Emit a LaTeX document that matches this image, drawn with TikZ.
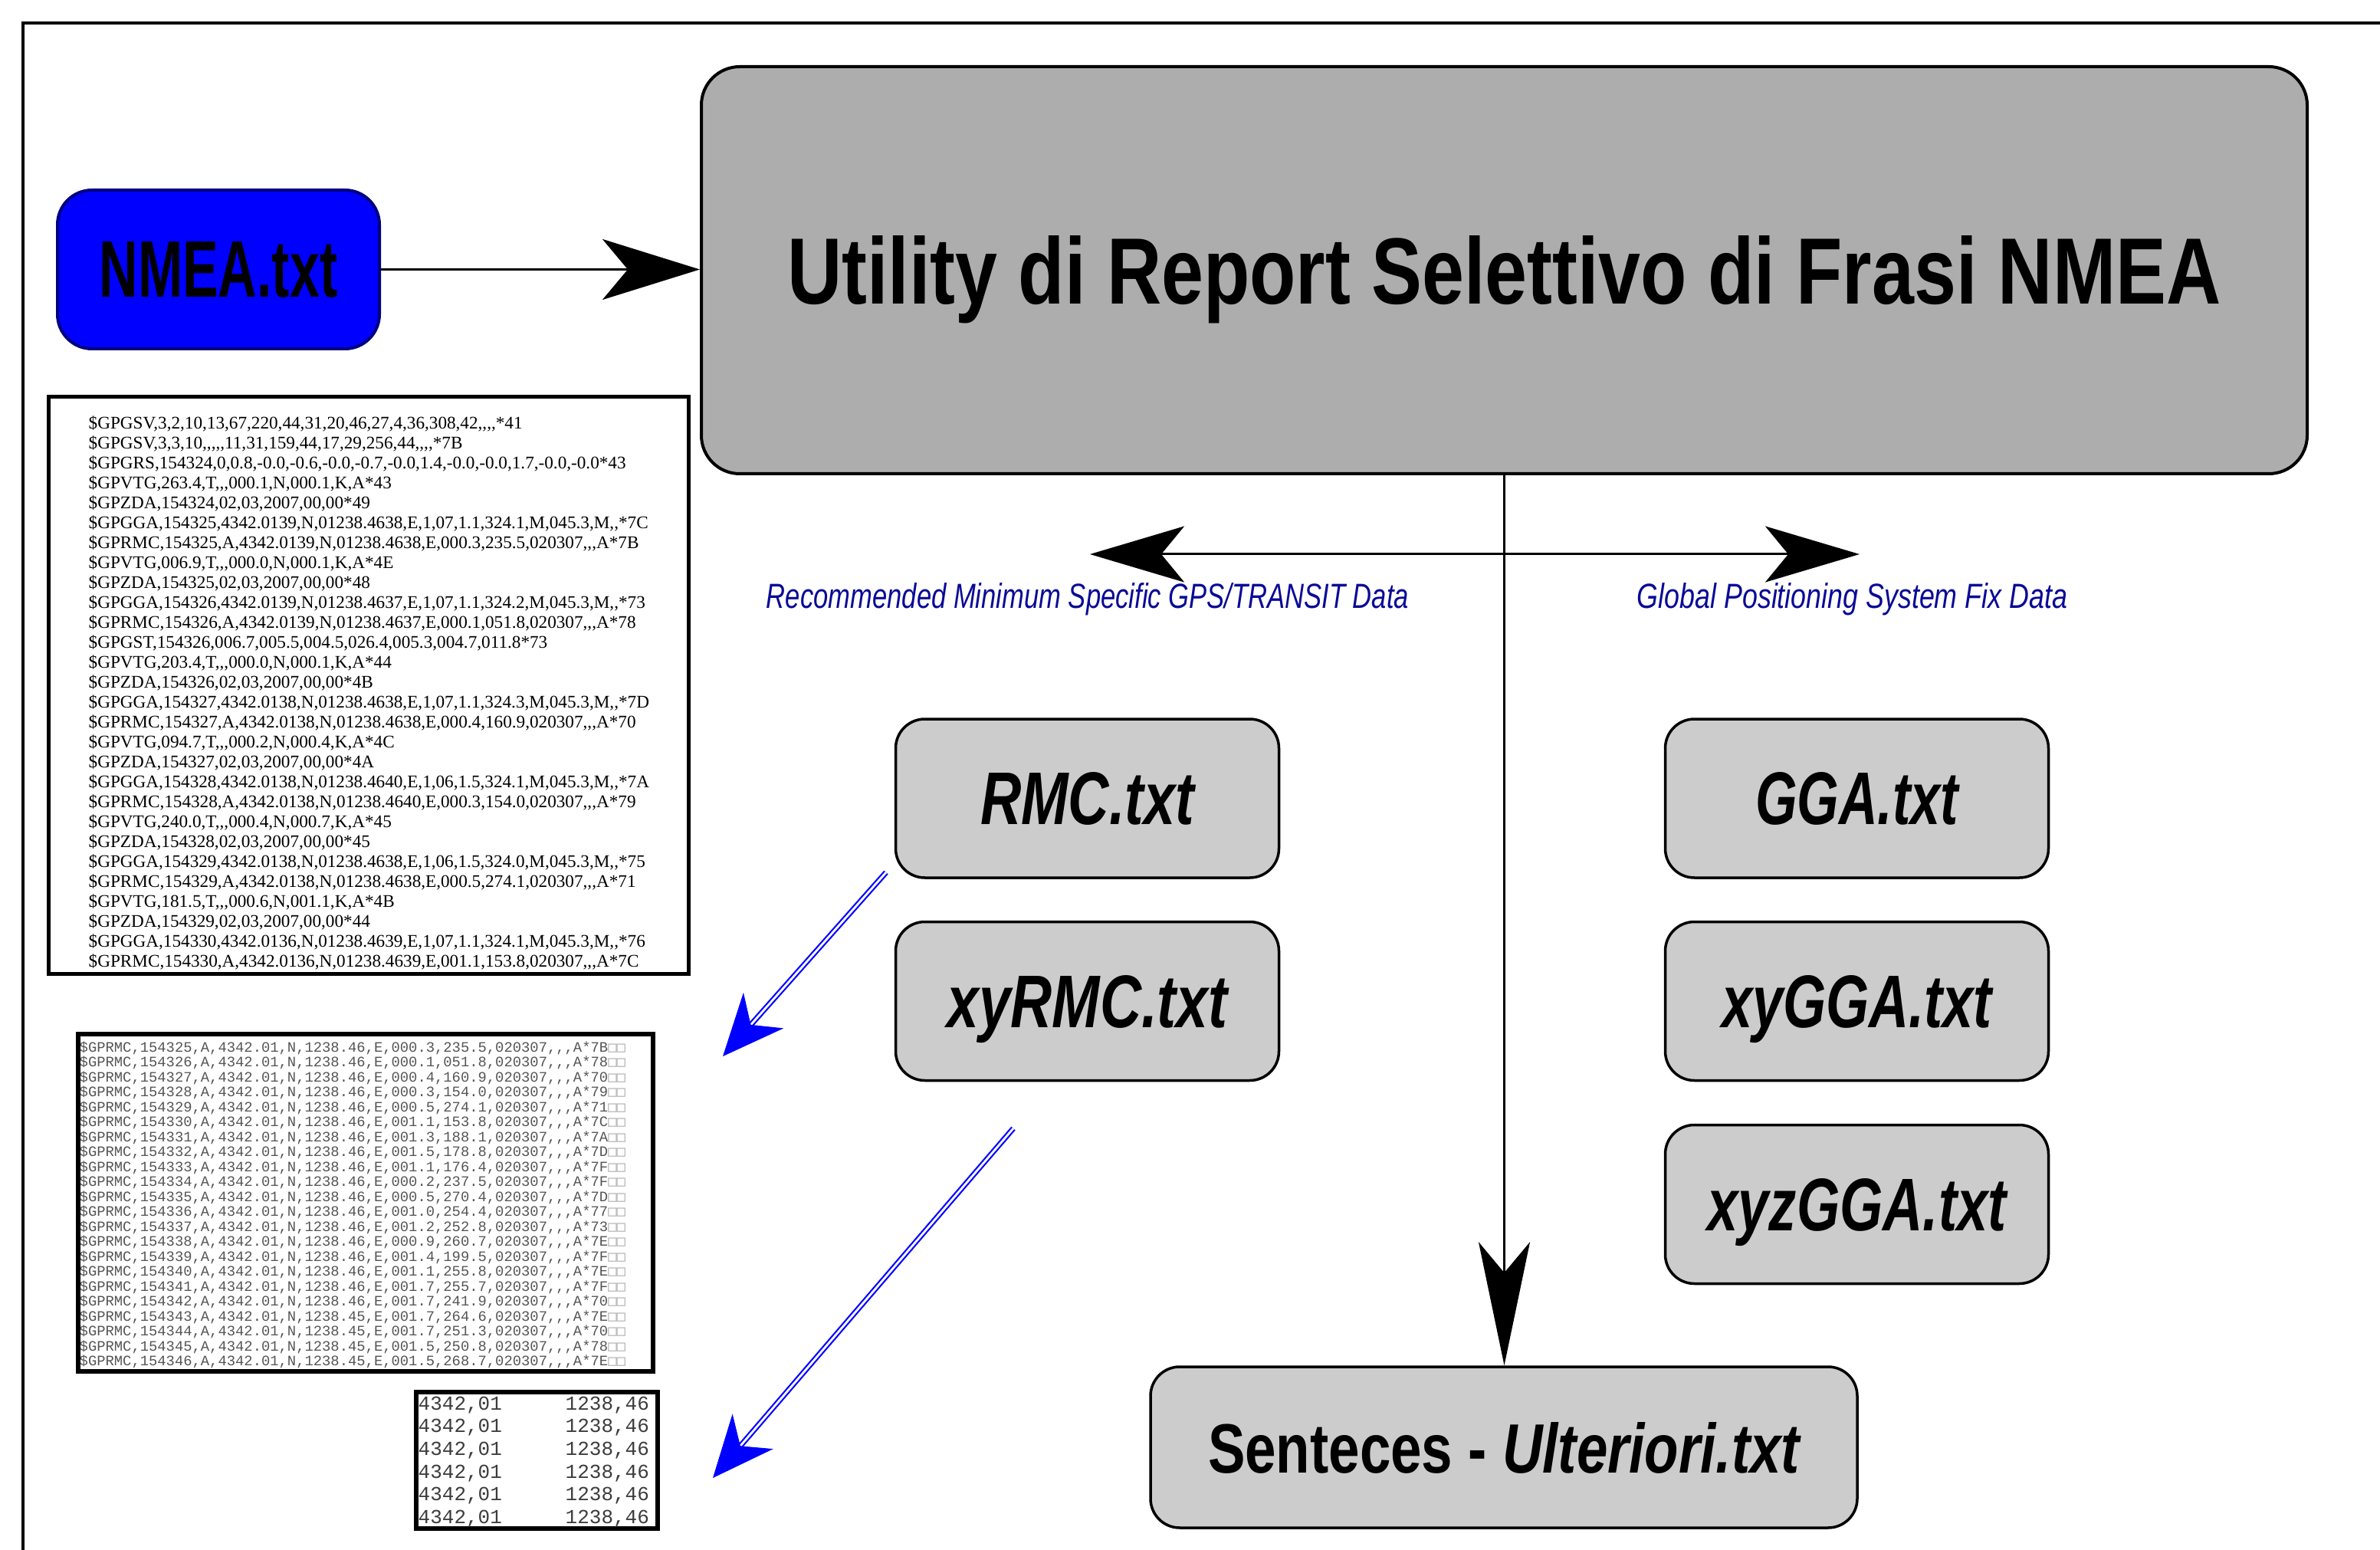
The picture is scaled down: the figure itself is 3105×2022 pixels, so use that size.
\documentclass[tikz,border=0pt]{standalone}
\usepackage{fontspec}
\setmainfont{Liberation Sans}
\newfontfamily\serifraw{Liberation Serif}
\newfontfamily\monoraw{Liberation Mono}
\newfontfamily\symraw{DejaVu Sans Mono}
\usetikzlibrary{arrows.meta,calc}
\definecolor{navyb}{RGB}{0,0,128}
\definecolor{pureblue}{RGB}{0,0,255}
\definecolor{lblblue}{RGB}{10,10,150}
\definecolor{biggray}{RGB}{173,173,173}
\definecolor{filegray}{RGB}{204,204,204}
\definecolor{rawgray}{RGB}{85,85,85}
\definecolor{colgray}{RGB}{60,60,60}
\definecolor{sqgray}{RGB}{170,170,170}
\newcommand\Cm{,\kern0pt}
\newcommand\linesblock[2]{\vtop{\baselineskip=#1\relax\lineskiplimit=-\maxdimen\lineskip=0pt\halign{##\hfil\cr#2\crcr}}}
\newcommand\rmcline[5]{\$GPRMC,#1,A,4342.01,N,#2,E,#3,#4,020307\Cm\Cm,A*#5{\symraw\color{sqgray}□□}}
\newcommand\colline{\makebox[19.2mm][l]{4342,01}1238,46}
\tikzset{
  frameline/.style={line width=0.4mm},
  inbox/.style={draw=navyb, fill=pureblue, line width=0.4mm, rounded corners=4.5mm,
    inner sep=0pt, text depth=0pt, minimum width=42mm, minimum height=20.7mm},
  bigbox/.style={draw, fill=biggray, line width=0.4mm, rounded corners=5mm,
    inner sep=0pt, text depth=0pt, minimum width=209.5mm, minimum height=53.1mm},
  filebox/.style={draw, fill=filegray, line width=0.35mm, rounded corners=3.8mm,
    inner sep=0pt, text depth=0pt, minimum width=50mm, minimum height=20.7mm},
  databox/.style={draw, line width=0.55mm, inner sep=0pt},
  rawtxt/.style={anchor=base west, inner sep=0pt},
  lbl/.style={anchor=base, inner sep=0pt, text=lblblue},
  conn/.style={line width=0.3mm},
  blueline/.style={draw=pureblue, line width=0.22mm, double=white, double distance=0.28mm},
  bluetip/.style={draw=pureblue, fill=pureblue, line width=0.1mm,
    -{Stealth[length=8mm,width=7mm,inset=2.5mm]}}
}
\begin{document}
\begin{tikzpicture}[x=0.1mm,y=-0.1mm]
\useasboundingbox (0,0) rectangle (3105,2022);
\draw[frameline] (30,2040) -- (30,30) -- (3120,30);

% main nodes
\node[inbox] (nmea) at (285,351.5) {\resizebox{31.1mm}{7.2mm}{\bfseries NMEA.txt}};
\node[bigbox] (util) at (1962.5,352.5) {\resizebox{187mm}{8.9mm}{\bfseries Utility di Report Selettivo di Frasi NMEA}};
\node[filebox] (rmc) at (1418.5,1041.5) {\resizebox{27.9mm}{6.8mm}{\bfseries\itshape RMC.txt}};
\node[filebox] (xyrmc) at (1418.5,1306) {\resizebox{36.6mm}{6.8mm}{\bfseries\itshape xyRMC.txt}};
\node[filebox] (gga) at (2422.5,1041.5) {\resizebox{26.5mm}{6.8mm}{\bfseries\itshape GGA.txt}};
\node[filebox] (xygga) at (2422.5,1306) {\resizebox{35.3mm}{6.8mm}{\bfseries\itshape xyGGA.txt}};
\node[filebox] (xyzgga) at (2422.5,1571) {\resizebox{39mm}{6.8mm}{\bfseries\itshape xyzGGA.txt}};
\node[filebox, minimum width=92.2mm, minimum height=21mm] (sent) at (1962,1888)
  {\resizebox{77.2mm}{6.6mm}{\bfseries Senteces - \itshape Ulteriori.txt}};

% labels
\node[lbl] (rmclbl) at (1419,793) {\resizebox{83.8mm}{3.3mm}{\itshape Recommended Minimum Specific GPS/TRANSIT Data}};
\node[lbl] (ggalbl) at (2416.5,793) {\resizebox{56.1mm}{3.3mm}{\itshape Global Positioning System Fix Data}};

% connectors
\draw[conn, line width=0.35mm, -{Stealth[length=12.7mm,width=7.9mm,inset=3.3mm]}] (nmea.east) -- (nmea.east -| util.west);
\draw[conn, -{Stealth[length=16.1mm,width=6.7mm,inset=4mm]}] (util.south) -- (util.south |- sent.north);
\coordinate (hl) at (1422,723);
\coordinate (hr) at (2426,723);
\draw[conn, {Stealth[length=12.3mm,width=7.3mm,inset=3mm]}-{Stealth[length=12.3mm,width=7.3mm,inset=3mm]}] (hl) -- (hr);

% data boxes
\node[databox, line width=0.5mm, minimum width=83.5mm, minimum height=75.3mm] (raw1) at (481,894) {};
\node[rawtxt, font=\serifraw\fontsize{6.6pt}{7.39pt}\selectfont] (raw1text) at (115,560) {\linesblock{7.39pt}{%
\$GPGSV,3,2,10,13,67,220,44,31,20,46,27,4,36,308,42\Cm\Cm\Cm,*41\cr
\$GPGSV,3,3,10\Cm\Cm\Cm\Cm,11,31,159,44,17,29,256,44\Cm\Cm\Cm,*7B\cr
\$GPGRS,154324,0,0.8,-0.0,-0.6,-0.0,-0.7,-0.0,1.4,-0.0,-0.0,1.7,-0.0,-0.0*43\cr
\$GPVTG,263.4,T\Cm\Cm,000.1,N,000.1,K,A*43\cr
\$GPZDA,154324,02,03,2007,00,00*49\cr
\$GPGGA,154325,4342.0139,N,01238.4638,E,1,07,1.1,324.1,M,045.3,M\Cm,*7C\cr
\$GPRMC,154325,A,4342.0139,N,01238.4638,E,000.3,235.5,020307\Cm\Cm,A*7B\cr
\$GPVTG,006.9,T\Cm\Cm,000.0,N,000.1,K,A*4E\cr
\$GPZDA,154325,02,03,2007,00,00*48\cr
\$GPGGA,154326,4342.0139,N,01238.4637,E,1,07,1.1,324.2,M,045.3,M\Cm,*73\cr
\$GPRMC,154326,A,4342.0139,N,01238.4637,E,000.1,051.8,020307\Cm\Cm,A*78\cr
\$GPGST,154326,006.7,005.5,004.5,026.4,005.3,004.7,011.8*73\cr
\$GPVTG,203.4,T\Cm\Cm,000.0,N,000.1,K,A*44\cr
\$GPZDA,154326,02,03,2007,00,00*4B\cr
\$GPGGA,154327,4342.0138,N,01238.4638,E,1,07,1.1,324.3,M,045.3,M\Cm,*7D\cr
\$GPRMC,154327,A,4342.0138,N,01238.4638,E,000.4,160.9,020307\Cm\Cm,A*70\cr
\$GPVTG,094.7,T\Cm\Cm,000.2,N,000.4,K,A*4C\cr
\$GPZDA,154327,02,03,2007,00,00*4A\cr
\$GPGGA,154328,4342.0138,N,01238.4640,E,1,06,1.5,324.1,M,045.3,M\Cm,*7A\cr
\$GPRMC,154328,A,4342.0138,N,01238.4640,E,000.3,154.0,020307\Cm\Cm,A*79\cr
\$GPVTG,240.0,T\Cm\Cm,000.4,N,000.7,K,A*45\cr
\$GPZDA,154328,02,03,2007,00,00*45\cr
\$GPGGA,154329,4342.0138,N,01238.4638,E,1,06,1.5,324.0,M,045.3,M\Cm,*75\cr
\$GPRMC,154329,A,4342.0138,N,01238.4638,E,000.5,274.1,020307\Cm\Cm,A*71\cr
\$GPVTG,181.5,T\Cm\Cm,000.6,N,001.1,K,A*4B\cr
\$GPZDA,154329,02,03,2007,00,00*44\cr
\$GPGGA,154330,4342.0136,N,01238.4639,E,1,07,1.1,324.1,M,045.3,M\Cm,*76\cr
\$GPRMC,154330,A,4342.0136,N,01238.4639,E,001.1,153.8,020307\Cm\Cm,A*7C}};

\node[databox, minimum width=75mm, minimum height=44mm] (raw2) at (477,1569) {};
\node[rawtxt, text=rawgray, font=\monoraw\fontsize{5.36pt}{5.55pt}\selectfont] (raw2text) at (103,1372) {\linesblock{5.55pt}{%
\rmcline{154325}{1238.46}{000.3}{235.5}{7B}\cr
\rmcline{154326}{1238.46}{000.1}{051.8}{78}\cr
\rmcline{154327}{1238.46}{000.4}{160.9}{70}\cr
\rmcline{154328}{1238.46}{000.3}{154.0}{79}\cr
\rmcline{154329}{1238.46}{000.5}{274.1}{71}\cr
\rmcline{154330}{1238.46}{001.1}{153.8}{7C}\cr
\rmcline{154331}{1238.46}{001.3}{188.1}{7A}\cr
\rmcline{154332}{1238.46}{001.5}{178.8}{7D}\cr
\rmcline{154333}{1238.46}{001.1}{176.4}{7F}\cr
\rmcline{154334}{1238.46}{000.2}{237.5}{7F}\cr
\rmcline{154335}{1238.46}{000.5}{270.4}{7D}\cr
\rmcline{154336}{1238.46}{001.0}{254.4}{77}\cr
\rmcline{154337}{1238.46}{001.2}{252.8}{73}\cr
\rmcline{154338}{1238.46}{000.9}{260.7}{7E}\cr
\rmcline{154339}{1238.46}{001.4}{199.5}{7F}\cr
\rmcline{154340}{1238.46}{001.1}{255.8}{7E}\cr
\rmcline{154341}{1238.46}{001.7}{255.7}{7F}\cr
\rmcline{154342}{1238.46}{001.7}{241.9}{70}\cr
\rmcline{154343}{1238.45}{001.7}{264.6}{7E}\cr
\rmcline{154344}{1238.45}{001.7}{251.3}{70}\cr
\rmcline{154345}{1238.45}{001.5}{250.8}{78}\cr
\rmcline{154346}{1238.45}{001.5}{268.7}{7E}}};

\node[databox, minimum width=31.5mm, minimum height=17.8mm] (raw3) at (700.5,1905) {};
\node[rawtxt, text=colgray, font=\monoraw\fontsize{7.4pt}{8.45pt}\selectfont] (raw3text) at (545,1839) {\linesblock{8.45pt}{%
\colline\cr\colline\cr\colline\cr\colline\cr\colline\cr\colline}};

% blue arrows
\coordinate (b1s) at (1156,1138);
\coordinate (b1e) at (943,1378);
\coordinate (b2s) at (1322,1472);
\coordinate (b2e) at (930,1928);
\draw[blueline, shorten >=5.5mm] (b1s) -- (b1e);
\draw[bluetip] ($(b1s)!0.9!(b1e)$) -- (b1e);
\draw[blueline, shorten >=5.5mm] (b2s) -- (b2e);
\draw[bluetip] ($(b2s)!0.95!(b2e)$) -- (b2e);
\end{tikzpicture}
\end{document}
